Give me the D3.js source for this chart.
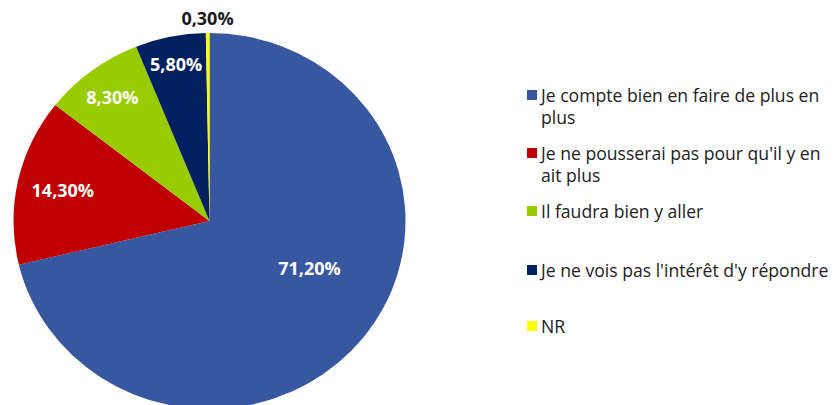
<!DOCTYPE html>
<html>
<head>
<meta charset="utf-8">
<script src="https://cdn.jsdelivr.net/npm/d3@7"></script>
<style>
  html, body { margin: 0; padding: 0; background: #fff; }
  svg { display: block; font-family: "Open Sans", Lato, sans-serif; }
</style>
</head>
<body>
<div id="chart"></div>
<script>
// ── data ────────────────────────────────────────────────
const categories = [
  "Je compte bien en faire de plus en plus",
  "Je ne pousserai pas pour qu'il y en ait plus",
  "Il faudra bien y aller",
  "Je ne vois pas l'intérêt d'y répondre",
  "NR"
];
const values = [71.2, 14.3, 8.3, 5.8, 0.3];
const labels = ["71,20%", "14,30%", "8,30%", "5,80%", "0,30%"];
const legendLines = [
  ["Je compte bien en faire de plus en", "plus"],
  ["Je ne pousserai pas pour qu'il y en", "ait plus"],
  ["Il faudra bien y aller"],
  ["Je ne vois pas l'intérêt d'y répondre"],
  ["NR"]
];
const colors = ["#3757a0", "#c00000", "#99cc00", "#002060", "#ffff00"];

const W = 835, H = 405;
const cx = 209.5, cy = 221;
const R  = 188;
const sx = 196 / 188;   // picture is a bit stretched horizontally

const svg = d3.select("#chart").append("svg")
  .attr("width", W)
  .attr("height", H);

const pie = d3.pie().sort(null).value(d => d);
const arcs = pie(values);
const arc = d3.arc().innerRadius(0).outerRadius(R);

const g = svg.append("g")
  .attr("transform", `translate(${cx},${cy}) scale(${sx},1)`);

g.selectAll("path.slice")
  .data(arcs)
  .join("path")
  .attr("class", "slice")
  .attr("d", arc)
  .attr("fill", (d, i) => colors[i]);

// label placement (radius along mid angle, big slice pulled in)
const labelRadius = [107, 144, 155, 160, 203];
const labelAngleShift = [-0.21, 0, 0, 0, 0];

svg.selectAll("text.pct")
  .data(arcs)
  .join("text")
  .attr("class", "pct")
  .each(function (d, i) {
    const a = (d.startAngle + d.endAngle) / 2 + labelAngleShift[i];
    const [px, py] = d3.pointRadial(a, labelRadius[i]);
    d3.select(this)
      .attr("x", cx + px * sx)
      .attr("y", cy + py);
  })
  .attr("text-anchor", "middle")
  .attr("dominant-baseline", "central")
  .attr("font-size", 18)
  .attr("font-weight", "bold")
  .attr("fill", (d, i) => i === 4 ? "#1a1a1a" : "#fff")
  .text((d, i) => labels[i]);

// legend
const legY = [95, 153, 211, 270, 326];
const lg = svg.append("g").attr("class", "legend");
legendLines.forEach((lines, i) => {
  lg.append("rect")
    .attr("x", 527)
    .attr("y", legY[i] - 5)
    .attr("width", 10)
    .attr("height", 10)
    .attr("fill", colors[i]);
  const t = lg.append("text")
    .attr("x", 541)
    .attr("y", legY[i])
    .attr("dominant-baseline", "central")
    .attr("font-size", 17.6)
    .attr("fill", "#222");
  lines.forEach((ln, j) => {
    t.append("tspan")
      .attr("x", 541)
      .attr("dy", j === 0 ? 0 : 22)
      .text(ln);
  });
});
</script>
</body>
</html>
